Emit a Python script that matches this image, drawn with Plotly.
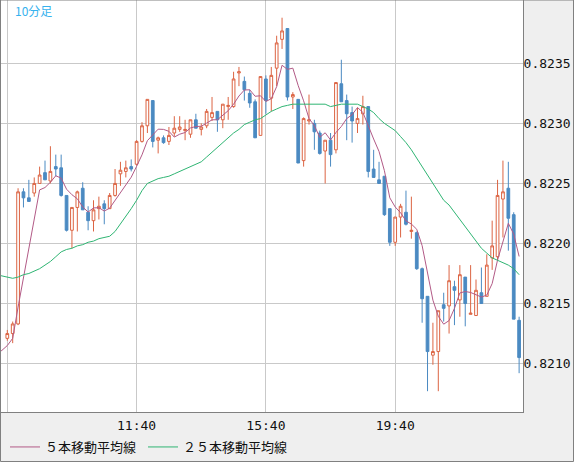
import numpy as np
import pandas as pd
import plotly.graph_objects as go

# ---- data (10-minute bars) ----
start_time = "07:40"
bar_minutes = 10

opens = [0.82121, 0.82125, 0.82133, 0.82243, 0.82238, 0.82242, 0.82250, 0.82259, 0.82252, 0.82264,
         0.82263, 0.82240, 0.82211, 0.82230, 0.82246, 0.82226, 0.82219, 0.82229, 0.82233, 0.82229,
         0.82240, 0.82258, 0.82260, 0.82264, 0.82266, 0.82285, 0.82298, 0.82319, 0.82286, 0.82288,
         0.82285, 0.82292, 0.82295, 0.82294, 0.82291, 0.82303, 0.82295, 0.82298, 0.82305, 0.82310,
         0.82303, 0.82314, 0.82314, 0.82342, 0.82335, 0.82325, 0.82318, 0.82290, 0.82337, 0.82321,
         0.82346, 0.82370, 0.82379, 0.82322, 0.82320, 0.82269, 0.82302, 0.82300, 0.82292, 0.82277,
         0.82286, 0.82278, 0.82333, 0.82319, 0.82309, 0.82300, 0.82308, 0.82314, 0.82262, 0.82253,
         0.82256, 0.82229, 0.82201, 0.82222, 0.82226, 0.82210, 0.82209, 0.82179, 0.82156, 0.82107,
         0.82110, 0.82149, 0.82148, 0.82164, 0.82153, 0.82172, 0.82141, 0.82140, 0.82159, 0.82156,
         0.82188, 0.82189, 0.82237, 0.82246, 0.82224, 0.82136]
highs = [0.82128, 0.82135, 0.82246, 0.82246, 0.82253, 0.82255, 0.82264, 0.82269, 0.82281, 0.82274,
         0.82274, 0.82240, 0.82230, 0.82244, 0.82251, 0.82231, 0.82236, 0.82239, 0.82236, 0.82242,
         0.82262, 0.82268, 0.82269, 0.82270, 0.82286, 0.82301, 0.82320, 0.82319, 0.82289, 0.82290,
         0.82297, 0.82306, 0.82306, 0.82303, 0.82303, 0.82308, 0.82300, 0.82312, 0.82322, 0.82310,
         0.82316, 0.82322, 0.82343, 0.82347, 0.82339, 0.82328, 0.82320, 0.82339, 0.82340, 0.82347,
         0.82373, 0.82388, 0.82379, 0.82326, 0.82320, 0.82305, 0.82324, 0.82303, 0.82294, 0.82286,
         0.82292, 0.82334, 0.82353, 0.82324, 0.82314, 0.82313, 0.82323, 0.82314, 0.82278, 0.82268,
         0.82256, 0.82229, 0.82222, 0.82233, 0.82244, 0.82239, 0.82210, 0.82180, 0.82156, 0.82134,
         0.82144, 0.82159, 0.82182, 0.82169, 0.82182, 0.82172, 0.82182, 0.82170, 0.82180, 0.82191,
         0.82219, 0.82253, 0.82269, 0.82268, 0.82226, 0.82139]
lows = [0.82119, 0.82117, 0.82132, 0.82230, 0.82235, 0.82239, 0.82250, 0.82253, 0.82250, 0.82256,
        0.82239, 0.82210, 0.82196, 0.82210, 0.82228, 0.82211, 0.82210, 0.82220, 0.82216, 0.82229,
        0.82239, 0.82248, 0.82255, 0.82260, 0.82265, 0.82284, 0.82292, 0.82280, 0.82275, 0.82283,
        0.82282, 0.82289, 0.82293, 0.82286, 0.82288, 0.82296, 0.82290, 0.82296, 0.82302, 0.82293,
        0.82296, 0.82303, 0.82313, 0.82331, 0.82319, 0.82313, 0.82288, 0.82290, 0.82308, 0.82310,
        0.82331, 0.82362, 0.82319, 0.82312, 0.82267, 0.82264, 0.82299, 0.82278, 0.82274, 0.82250,
        0.82264, 0.82275, 0.82318, 0.82286, 0.82284, 0.82292, 0.82299, 0.82255, 0.82255, 0.82250,
        0.82223, 0.82198, 0.82198, 0.82205, 0.82215, 0.82204, 0.82178, 0.82134, 0.82077, 0.82099,
        0.82077, 0.82135, 0.82125, 0.82132, 0.82139, 0.82131, 0.82141, 0.82140, 0.82150, 0.82156,
        0.82178, 0.82186, 0.82205, 0.82194, 0.82137, 0.82092]
closes = [0.82125, 0.82133, 0.82243, 0.82238, 0.82235, 0.82250, 0.82257, 0.82253, 0.82260, 0.82262,
          0.82240, 0.82211, 0.82230, 0.82243, 0.82228, 0.82219, 0.82228, 0.82231, 0.82229, 0.82240,
          0.82250, 0.82261, 0.82263, 0.82262, 0.82285, 0.82298, 0.82320, 0.82285, 0.82288, 0.82284,
          0.82290, 0.82296, 0.82297, 0.82295, 0.82303, 0.82296, 0.82297, 0.82310, 0.82309, 0.82303,
          0.82316, 0.82315, 0.82337, 0.82343, 0.82328, 0.82317, 0.82288, 0.82339, 0.82319, 0.82340,
          0.82367, 0.82377, 0.82322, 0.82324, 0.82267, 0.82304, 0.82303, 0.82293, 0.82275, 0.82286,
          0.82274, 0.82334, 0.82318, 0.82308, 0.82302, 0.82304, 0.82314, 0.82260, 0.82255, 0.82250,
          0.82224, 0.82201, 0.82222, 0.82231, 0.82216, 0.82211, 0.82179, 0.82154, 0.82110, 0.82110,
          0.82144, 0.82146, 0.82169, 0.82161, 0.82174, 0.82150, 0.82142, 0.82161, 0.82150, 0.82182,
          0.82198, 0.82240, 0.82243, 0.82221, 0.82137, 0.82105]

# 5-bar MA for the two bars before the window and the first four bars (needs earlier, unseen data)
ma5_lead = [0.82108, 0.82111, 0.82115, 0.82121, 0.82147, 0.82171]
# 25-bar MA, from two bars before the window to the last bar
ma25 = [0.82174, 0.82173,
        0.82172, 0.82171, 0.82172, 0.82174, 0.82175, 0.82177, 0.82179, 0.82182, 0.82185, 0.82189,
        0.82193, 0.82195, 0.82196, 0.82198, 0.82199, 0.82201, 0.82202, 0.82204, 0.82205, 0.82206,
        0.82210, 0.82216, 0.82223, 0.82229, 0.82236, 0.82244, 0.82250, 0.82252, 0.82254, 0.82255,
        0.82256, 0.82258, 0.82260, 0.82262, 0.82264, 0.82266, 0.82268, 0.82272, 0.82276, 0.82280,
        0.82284, 0.82288, 0.82292, 0.82295, 0.82299, 0.82301, 0.82303, 0.82304, 0.82307, 0.82310,
        0.82312, 0.82314, 0.82315, 0.82316, 0.82316, 0.82316, 0.82316, 0.82316, 0.82316, 0.82316,
        0.82314, 0.82315, 0.82316, 0.82316, 0.82316, 0.82316, 0.82314, 0.82312, 0.82309, 0.82304,
        0.82300, 0.82297, 0.82294, 0.82289, 0.82284, 0.82278, 0.82271, 0.82264, 0.82257, 0.82250,
        0.82243, 0.82236, 0.82232, 0.82226, 0.82220, 0.82214, 0.82207, 0.82201, 0.82196, 0.82192,
        0.82188, 0.82186, 0.82184, 0.82182, 0.82179, 0.82174]

price_ticks = [0.8210, 0.8215, 0.8220, 0.8225, 0.8230, 0.8235]
grid_times = ["07:40", "11:40", "15:40", "19:40"]
grid_labels = ["", "11:40", "15:40", "19:40"]

title_text = "10分足"
ma5_name = "５本移動平均線"
ma25_name = "２５本移動平均線"

# ---- derived ----
n = len(closes)
lead = len(ma25) - n
t0 = pd.Timestamp("2000-01-01 " + start_time)
bar_times = [(t0 + pd.Timedelta(minutes=bar_minutes * i)).strftime("%H:%M") for i in range(n)]
xpos = np.arange(n)
xpos_ext = np.arange(-lead, n)
tickvals = [bar_times.index(t) for t in grid_times]

ma5_calc = pd.Series(closes).rolling(5).mean().tolist()[4:]
ma5 = ma5_lead + ma5_calc

inc_color = "#dc6443"
dec_color = "#4b8ac2"
ma5_color = "#b25a86"
ma25_color = "#2fb573"
grid_color = "#c9c9c9"
frame_color = "#808080"
mono = "DejaVu Sans Mono"
jp = "Noto Sans CJK JP"

W, H = 574, 462
ML, MR, MT, MB = 0, 51, 0, 50
PW, PH = W - ML - MR, H - MT - MB

fig = go.Figure()
fig.add_trace(go.Candlestick(
    x=xpos, open=opens, high=highs, low=lows, close=closes,
    increasing=dict(line=dict(color=inc_color, width=1), fillcolor="white"),
    decreasing=dict(line=dict(color=dec_color, width=1), fillcolor=dec_color),
    whiskerwidth=0, showlegend=False, hoverinfo="skip",
))
fig.add_trace(go.Scatter(x=xpos_ext, y=ma5, mode="lines", name=ma5_name, legend="legend",
                         line=dict(color=ma5_color, width=1), hoverinfo="skip"))
fig.add_trace(go.Scatter(x=xpos_ext, y=ma25, mode="lines", name=ma25_name, legend="legend2",
                         line=dict(color=ma25_color, width=1), hoverinfo="skip"))

legend_style = dict(orientation="h", xanchor="left", y=-35.0 / PH, yanchor="middle",
                    font=dict(family=jp, size=13, color="#111"), bgcolor="rgba(0,0,0,0)",
                    borderwidth=0, itemwidth=30)

ppx = 5.3875  # px per bar, used only for axis range padding
fig.update_layout(
    template="none",
    width=W, height=H,
    margin=dict(l=ML, r=MR, t=MT, b=MB, pad=0, autoexpand=False),
    paper_bgcolor="#efefef", plot_bgcolor="white",
    boxgap=0.28,
    showlegend=True,
    legend=dict(x=5.0 / PW, **legend_style),
    legend2=dict(x=143.0 / PW, **legend_style),
    xaxis=dict(range=[-7.3 / ppx, (PW - 7.3) / ppx], tickvals=tickvals, ticktext=grid_labels,
               showgrid=True, gridcolor=grid_color, gridwidth=1, zeroline=False,
               showline=True, linecolor=frame_color, linewidth=1, mirror=True,
               ticks="", ticklen=0, ticklabelstandoff=1, automargin=False,
               tickfont=dict(family=mono, size=13, color="#111"),
               rangeslider=dict(visible=False)),
    yaxis=dict(range=[0.8205967, 0.8240275], side="right", tickvals=price_ticks,
               tickformat=".4f", showgrid=True, gridcolor=grid_color, gridwidth=1, zeroline=False,
               showline=True, linecolor=frame_color, linewidth=1, mirror=True,
               ticks="", ticklen=0, ticklabelstandoff=-3, automargin=False,
               tickfont=dict(family=mono, size=13, color="#111")),
    annotations=[dict(text=title_text, xref="paper", yref="paper", x=13.0 / PW, y=1.0,
                      xanchor="left", yanchor="top", showarrow=False,
                      font=dict(family=jp, size=12, color="#35b2ee"))],
    shapes=[dict(type="rect", xref="paper", yref="paper", x0=0.5 / PW, x1=(W - 0.5) / PW,
                 y0=-(MB - 0.5) / PH, y1=1, line=dict(color=frame_color, width=1),
                 fillcolor="rgba(0,0,0,0)", layer="above")],
)

fig.write_html("out.html", config={"displayModeBar": False},
               post_script="document.body.style.margin='0px';")
